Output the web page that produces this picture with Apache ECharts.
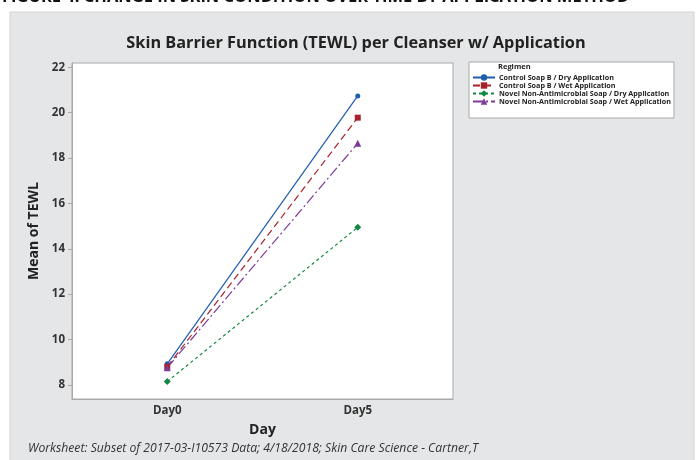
<!DOCTYPE html>
<html>
<head>
<meta charset="utf-8">
<script src="https://cdn.jsdelivr.net/npm/echarts@6/dist/echarts.min.js"></script>
<style>
  html, body { margin: 0; padding: 0; background: #fff; }
  #main { width: 697px; height: 460px; }
</style>
</head>
<body>
<div id="main"></div>
<script>
// values
var days = ['Day0', 'Day5'];
var controlDry = [8.93, 20.74];
var controlWet = [8.8, 19.78];
var novelDry = [8.15, 14.95];
var novelWet = [8.76, 18.65];
var yTicks = [8, 10, 12, 14, 16, 18, 20, 22];

var chart = echarts.init(document.getElementById('main'));
var font = '"Open Sans", "Noto Sans", sans-serif';

function line(name, data, color, dash, symbol, size) {
  return {
    name: name,
    type: 'line',
    data: data,
    symbol: symbol,
    symbolSize: size,
    lineStyle: { color: color, width: 1.2, type: dash },
    itemStyle: { color: color },
    z: 3
  };
}

var option = {
  backgroundColor: '#fff',
  animation: false,
  textStyle: { fontFamily: font },
  graphic: [
    {
      type: 'text', left: 2, top: -11, z: 0,
      style: { text: 'FIGURE 4: CHANGE IN SKIN CONDITION OVER TIME BY APPLICATION METHOD', fontFamily: font, fontSize: 16.5, fontWeight: 'bold', fill: '#111' }
    },
    {
      type: 'rect', z: -10, silent: true,
      shape: { x: 10, y: 12, width: 684, height: 470 },
      style: { fill: '#e5e6e8', stroke: '#d2d3d5', lineWidth: 1 }
    },
    {
      type: 'text', left: 498, top: 63, z: 20,
      style: { text: 'Regimen', fontFamily: font, fontSize: 7.5, fontWeight: 'bold', fill: '#222' }
    },
    {
      type: 'text', left: 28, top: 443, z: 5,
      style: { text: 'Worksheet: Subset of 2017-03-I10573 Data; 4/18/2018; Skin Care Science - Cartner,T', fontFamily: font, fontSize: 12.2, fontStyle: 'italic', fill: '#333' }
    }
  ],
  title: {
    text: 'Skin Barrier Function (TEWL) per Cleanser w/ Application',
    left: 351, top: 30, textAlign: 'center',
    textStyle: { fontFamily: font, fontSize: 16.3, fontWeight: 'bold', color: '#222' }
  },
  legend: {
    orient: 'vertical',
    left: 469, top: 62,
    padding: [12, 3, 13, 3],
    itemGap: 1,
    itemWidth: 22, itemHeight: 8,
    backgroundColor: '#fff',
    borderColor: '#a8a8a8', borderWidth: 1,
    textStyle: { fontFamily: font, fontSize: 7.2, fontWeight: 'bold', color: '#222', padding: [0, 0, 0, -1] },
    data: [
      'Control Soap B / Dry Application',
      'Control Soap B / Wet Application',
      'Novel Non-Antimicrobial Soap / Dry Application',
      'Novel Non-Antimicrobial Soap / Wet Application'
    ]
  },
  grid: {
    left: 72, right: 244, top: 63, bottom: 61,
    show: true, backgroundColor: '#fff', borderColor: '#a9a9a9', borderWidth: 1
  },
  xAxis: {
    type: 'category',
    data: days,
    boundaryGap: true,
    name: 'Day', nameLocation: 'middle', nameGap: 24,
    nameTextStyle: { fontFamily: font, fontSize: 14, fontWeight: 'bold', color: '#222' },
    axisLine: { lineStyle: { color: '#a9a9a9' } },
    axisTick: { alignWithLabel: true, length: 4, lineStyle: { color: '#a9a9a9' } },
    axisLabel: { fontFamily: font, fontSize: 11.5, fontWeight: 'bold', color: '#333', margin: 6 },
    splitLine: { show: false }
  },
  yAxis: {
    type: 'value',
    min: 7.38, max: 22.19,
    name: 'Mean of TEWL', nameLocation: 'middle', nameGap: 29,
    nameTextStyle: { fontFamily: font, fontSize: 14, fontWeight: 'bold', color: '#222' },
    axisLine: { show: true, lineStyle: { color: '#a9a9a9' } },
    axisTick: { show: true, length: 4, customValues: yTicks, lineStyle: { color: '#a9a9a9' } },
    axisLabel: { fontFamily: font, fontSize: 11.5, fontWeight: 'bold', color: '#333', margin: 7, customValues: yTicks },
    splitLine: { show: false }
  },
  series: [
    line('Control Soap B / Dry Application', controlDry, '#1f5dae', 'solid', 'circle', 5),
    line('Control Soap B / Wet Application', controlWet, '#a82128', [7, 4], 'rect', 6),
    line('Novel Non-Antimicrobial Soap / Dry Application', novelDry, '#12873f', [3, 3], 'diamond', 7),
    line('Novel Non-Antimicrobial Soap / Wet Application', novelWet, '#7e3a98', [10, 3, 2, 3], 'triangle', 7)
  ]
};

chart.setOption(option);
</script>
</body>
</html>
